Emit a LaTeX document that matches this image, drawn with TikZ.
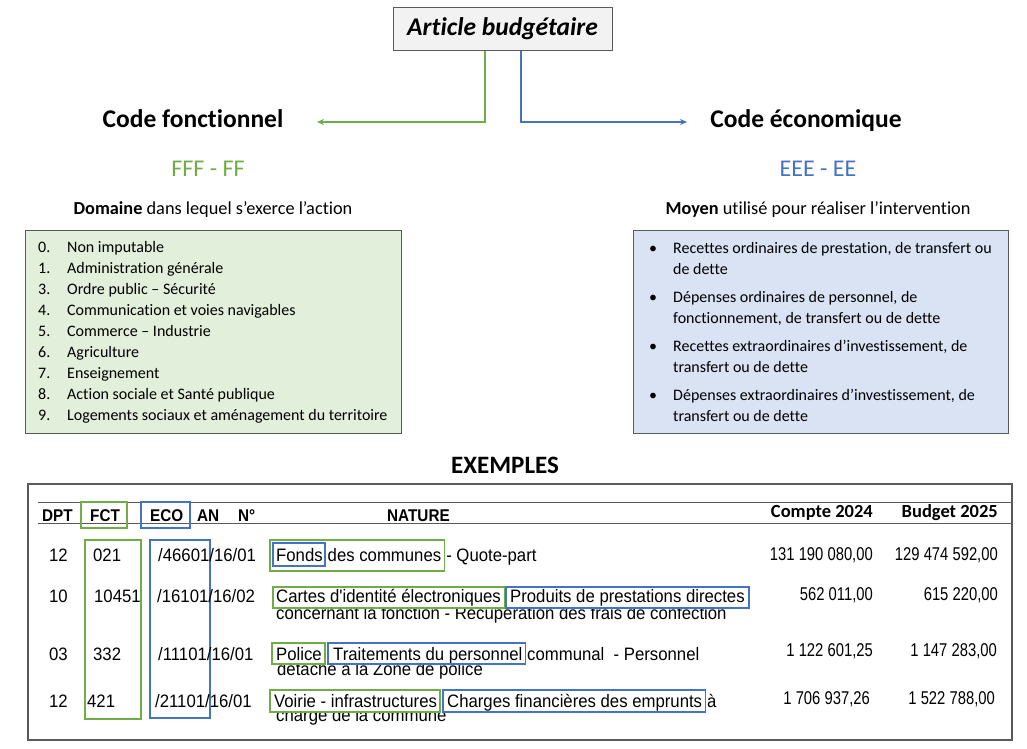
\documentclass[tikz,border=0pt]{standalone}
\usepackage{fontspec}
\setmainfont{Carlito}[Ligatures=NoCommon]
\newfontfamily\arialf{Liberation Sans}
\usetikzlibrary{arrows.meta,calc}
\definecolor{gr}{HTML}{70AD47}
\definecolor{bl}{HTML}{4472C4}
\definecolor{grfill}{HTML}{E2EFDA}
\definecolor{blfill}{HTML}{DAE3F3}
\definecolor{frm}{HTML}{595959}
\definecolor{ttlfill}{HTML}{F2F2F2}
\tikzset{
 cal/.style={inner sep=0pt, anchor=base west},
 ctr/.style={inner sep=0pt, anchor=base},
 item/.style={cal, font=\fontsize{16}{18}\selectfont},
 rt/.style={inner sep=0pt, anchor=base west, font=\arialf\fontsize{18}{18}\selectfont, xscale=0.93},
 amt/.style={inner sep=0pt, anchor=base east, font=\arialf\fontsize{18.5}{18}\selectfont, xscale=0.8},
 hd/.style={inner sep=0pt, anchor=base west, font=\arialf\bfseries\fontsize{17}{17}\selectfont, xscale=0.9},
 gbx/.style={draw=gr, line width=1.5pt},
 bbx/.style={draw=bl, line width=1.5pt},
 colg/.style={draw=gr, line width=2pt},
 colb/.style={draw=bl, line width=2pt},
 garr/.style={draw=gr, line width=1.6pt, -{Stealth[length=7pt,width=6pt]}},
 barr/.style={draw=bl, line width=1.6pt, -{Stealth[length=7pt,width=6pt]}},
}
\begin{document}
\begin{tikzpicture}[x=1pt,y=-1pt]
\useasboundingbox[fill=white] (0,0) rectangle (1027,748);

% title
\node[draw=frm, fill=ttlfill, line width=1pt, minimum width=219pt, minimum height=43pt, inner sep=0pt,
      font=\bfseries\itshape\fontsize{25.5}{26}\selectfont] (art) at (502.5,28.5) {Article budgétaire};

\node[ctr, font=\bfseries\fontsize{25.5}{26}\selectfont] (cf) at (193,127) {Code fonctionnel};
\node[ctr, font=\bfseries\fontsize{25.5}{26}\selectfont] (ce) at (806,127) {Code économique};
\coordinate (gx) at (485,0);
\coordinate (bx) at (521,0);
\coordinate (gl) at (317,122);
\coordinate (bl) at (687,122);
\draw[garr] (art.south -| gx) |- (gl);
\draw[barr] (art.south -| bx) |- (bl);

\node[ctr, text=gr, font=\fontsize{24}{24}\selectfont] (ff) at (208,176) {FFF - FF};
\node[ctr, text=bl, font=\fontsize{24}{24}\selectfont] (ee) at (818,176) {EEE - EE};

\node[ctr, font=\fontsize{18.3}{18}\selectfont] (dom) at (213,214) {\textbf{Domaine} dans lequel s’exerce l’action};
\node[ctr, font=\fontsize{18.3}{18}\selectfont] (moy) at (818,214) {\textbf{Moyen} utilisé pour réaliser l’intervention};

% green list
\node[draw=frm, fill=grfill, line width=1pt, minimum width=376pt, minimum height=203pt, anchor=north west, inner sep=0pt] (gbox) at (25,230) {};
\foreach \n/\t [count=\i from 0] in {0./Non imputable,1./Administration générale,3./Ordre public – Sécurité,4./Communication et voies navigables,5./Commerce – Industrie,6./Agriculture,7./Enseignement,8./Action sociale et Santé publique,9./Logements sociaux et aménagement du territoire}{
  \node[item] (dn\i) at (38,252+21*\i) {\n};
  \node[item] (dt\i) at (67,252+21*\i) {\t};
}

% blue list
\node[draw=frm, fill=blfill, line width=1pt, minimum width=375pt, minimum height=203pt, anchor=north west, inner sep=0pt] (bbox) at (633,230) {};
\node[item] (b1) at (649,253) {•};
\node[item] (b1a) at (673,253) {Recettes ordinaires de prestation, de transfert ou};
\node[item] (b1b) at (673,274) {de dette};
\node[item] (b2) at (649,302) {•};
\node[item] (b2a) at (673,302) {Dépenses ordinaires de personnel, de};
\node[item] (b2b) at (673,323) {fonctionnement, de transfert ou de dette};
\node[item] (b3) at (649,351) {•};
\node[item] (b3a) at (673,351) {Recettes extraordinaires d’investissement, de};
\node[item] (b3b) at (673,372) {transfert ou de dette};
\node[item] (b4) at (649,400) {•};
\node[item] (b4a) at (673,400) {Dépenses extraordinaires d’investissement, de};
\node[item] (b4b) at (673,421) {transfert ou de dette};

% examples
\node[ctr, font=\bfseries\fontsize{25}{25}\selectfont] (ex) at (505,473) {EXEMPLES};

\draw[frm, line width=1.5pt] (28,484) rectangle (1012,740);
\draw[frm, line width=1pt] (38,502) -- (1012,502);
\draw[frm, line width=1pt] (38,523) -- (1012,523);

% header
\node[hd] (hdpt) at (42,521) {DPT};
\node[hd] (hfct) at (90,521) {FCT};
\node[hd] (heco) at (150,521) {ECO};
\node[hd] (han) at (197,521) {AN};
\node[hd] (hn) at (238,521) {N°};
\node[hd] (hnat) at (387,521) {NATURE};
\node[inner sep=0pt, anchor=base east, font=\bfseries\fontsize{18.5}{18}\selectfont] (hc) at (873,517) {Compte 2024};
\node[inner sep=0pt, anchor=base east, font=\bfseries\fontsize{18.5}{18}\selectfont] (hb) at (998,517) {Budget 2025};
\draw[colg] (81,502) rectangle (127,528);
\draw[colb] (141,502) rectangle (190,528);

% column boxes
\draw[colg] (85,540) rectangle (141,719);
\draw[colb] (150,540) rectangle (210,718);

% row 1
\node[rt] (r1d) at (49,561) {12};
\node[rt] (r1f) at (93,561) {021};
\node[rt] (r1e) at (158,561) {/46601/16/01};
\node[rt] (r1a) at (276,561) {Fonds};
\node[rt] (r1b) at (r1a.base east) {\ des communes};
\node[rt] (r1c) at (r1b.base east) {\ - Quote-part};
\draw[gbx] ($(r1a.base west)+(-6,-21)$) rectangle ($(r1b.base east)+(3,10)$);
\draw[bbx] ($(r1a.base west)+(-3,-18)$) rectangle ($(r1a.base east)+(2,5)$);
\node[amt] (r1x) at (873,560) {131 190 080,00};
\node[amt] (r1y) at (998,560) {129 474 592,00};

% row 2
\node[rt] (r2d) at (49,602) {10};
\node[rt] (r2f) at (94,602) {10451};
\node[rt] (r2e) at (157,602) {/16101/16/02};
\begin{scope}
\clip (260,609) rectangle (780,630);
\node[rt] (r2l) at (276,619) {concernant la fonction - Récupération des frais de confection};
\end{scope}
\node[rt] (r2a) at (276,602) {Cartes d'identité électroniques};
\node[rt] (r2b) at (510,602) {Produits de prestations directes};
\draw[gbx] ($(r2a.base west)+(-3,-15)$) rectangle ($(r2a.base east)+(4,6)$);
\draw[bbx] ($(r2b.base west)+(-4,-15)$) rectangle ($(r2b.base east)+(4,6)$);
\node[amt] (r2x) at (873,600) {562 011,00};
\node[amt] (r2y) at (998,600) {615 220,00};

% row 3
\node[rt] (r3d) at (49,660) {03};
\node[rt] (r3f) at (93,660) {332};
\node[rt] (r3e) at (158,660) {/11101/16/01};
\begin{scope}
\clip (260,665) rectangle (780,690);
\node[rt] (r3l) at (277,675) {détaché à la Zone de police};
\end{scope}
\node[rt] (r3a) at (276,660) {Police};
\node[rt] (r3b) at (333,660) {Traitements du personnel};
\node[rt] (r3c) at (527,660) {communal\ \ - Personnel};
\draw[gbx] ($(r3a.base west)+(-4,-17)$) rectangle ($(r3a.base east)+(3,4)$);
\draw[bbx] ($(r3b.base west)+(-5,-17)$) rectangle ($(r3b.base east)+(3,4)$);
\node[amt] (r3x) at (873,656) {1 122 601,25};
\node[amt] (r3y) at (997,656) {1 147 283,00};

% row 4
\node[rt] (r4d) at (49,707) {12};
\node[rt] (r4f) at (87,707) {421};
\node[rt] (r4e) at (155,707) {/21101/16/01};
\begin{scope}
\clip (260,713) rectangle (780,735);
\node[rt] (r4l) at (276,721) {charge de la commune};
\end{scope}
\node[rt] (r4a) at (274,707) {Voirie - infrastructures};
\node[rt] (r4b) at (447,707) {Charges financières des emprunts};
\node[rt] (r4c) at (707,707) {à};
\draw[gbx] ($(r4a.base west)+(-4,-17)$) rectangle ($(r4a.base east)+(3,5)$);
\draw[bbx] ($(r4b.base west)+(-4,-17)$) rectangle ($(r4b.base east)+(3,5)$);
\node[amt] (r4x) at (870,704) {1 706 937,26};
\node[amt] (r4y) at (995,704) {1 522 788,00};
\end{tikzpicture}
\end{document}
